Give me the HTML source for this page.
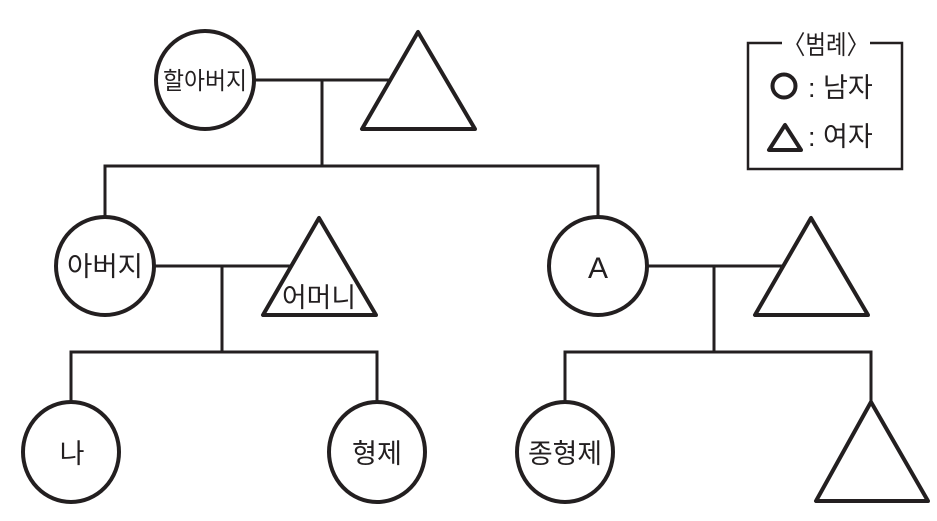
<!DOCTYPE html>
<html><head><meta charset="utf-8"><style>
html,body{margin:0;padding:0;background:#fff;}
svg{display:block;}
text{font-family:"Liberation Sans","Noto Sans CJK KR",sans-serif;fill:#231f20;}
</style></head><body>
<svg width="937" height="521" viewBox="0 0 937 521" xmlns="http://www.w3.org/2000/svg">
<g fill="none" stroke="#231f20" stroke-width="3">
<!-- gen1 -->
<line x1="254" y1="80" x2="392" y2="80"/>
<line x1="322" y1="80" x2="322" y2="166"/>
<polyline points="105,217 105,166 598,166 598,217"/>
<!-- gen2 left -->
<line x1="155" y1="266" x2="290" y2="266"/>
<line x1="222" y1="266" x2="222" y2="352"/>
<polyline points="71,402 71,352 377,352 377,402"/>
<!-- gen2 right -->
<line x1="648" y1="266" x2="784" y2="266"/>
<line x1="714" y1="266" x2="714" y2="352"/>
<polyline points="565,402 565,352 871,352 871,402"/>
</g>
<g fill="#fff" stroke="#231f20" stroke-width="4" stroke-linejoin="round">
<circle cx="205" cy="80" r="49"/>
<polygon points="418,32 362,129 475,129"/>
<circle cx="105" cy="266" r="49"/>
<polygon points="319,218 263,315 376,315"/>
<circle cx="598" cy="266" r="49"/>
<polygon points="811,218 755,315 868,315"/>
<ellipse cx="71" cy="452" rx="48" ry="50"/>
<ellipse cx="377" cy="452" rx="48" ry="50"/>
<ellipse cx="565" cy="452" rx="48" ry="50"/>
<polygon points="871,402 816,501 928,501"/>
</g>
<g font-size="24">
<text x="205" y="89" text-anchor="middle" textLength="84" lengthAdjust="spacingAndGlyphs">할아버지</text>
<text x="105" y="276" text-anchor="middle" font-size="27" textLength="76" lengthAdjust="spacingAndGlyphs">아버지</text>
<text x="319" y="307" text-anchor="middle" font-size="27" textLength="74" lengthAdjust="spacingAndGlyphs">어머니</text>
<text x="598" y="278" text-anchor="middle" font-size="30">A</text>
<text x="72" y="463" text-anchor="middle" font-size="27">나</text>
<text x="377" y="463" text-anchor="middle" font-size="27" textLength="50" lengthAdjust="spacingAndGlyphs">형제</text>
<text x="565" y="463" text-anchor="middle" font-size="27" textLength="74" lengthAdjust="spacingAndGlyphs">종형제</text>
</g>
<!-- legend -->
<polyline points="782,43 748,43 748,169 902,169 902,43 870,43" fill="none" stroke="#231f20" stroke-width="2.5"/>
<text x="826" y="54" text-anchor="middle" font-size="26" textLength="86" lengthAdjust="spacingAndGlyphs">〈범례〉</text>
<circle cx="784" cy="86" r="11.5" fill="none" stroke="#231f20" stroke-width="4"/>
<polygon points="785,125 769,150 801,150" fill="none" stroke="#231f20" stroke-width="4" stroke-linejoin="round"/>
<text x="808" y="97" font-size="27">: 남자</text>
<text x="808" y="146" font-size="27">: 여자</text>
</svg>
</body></html>
